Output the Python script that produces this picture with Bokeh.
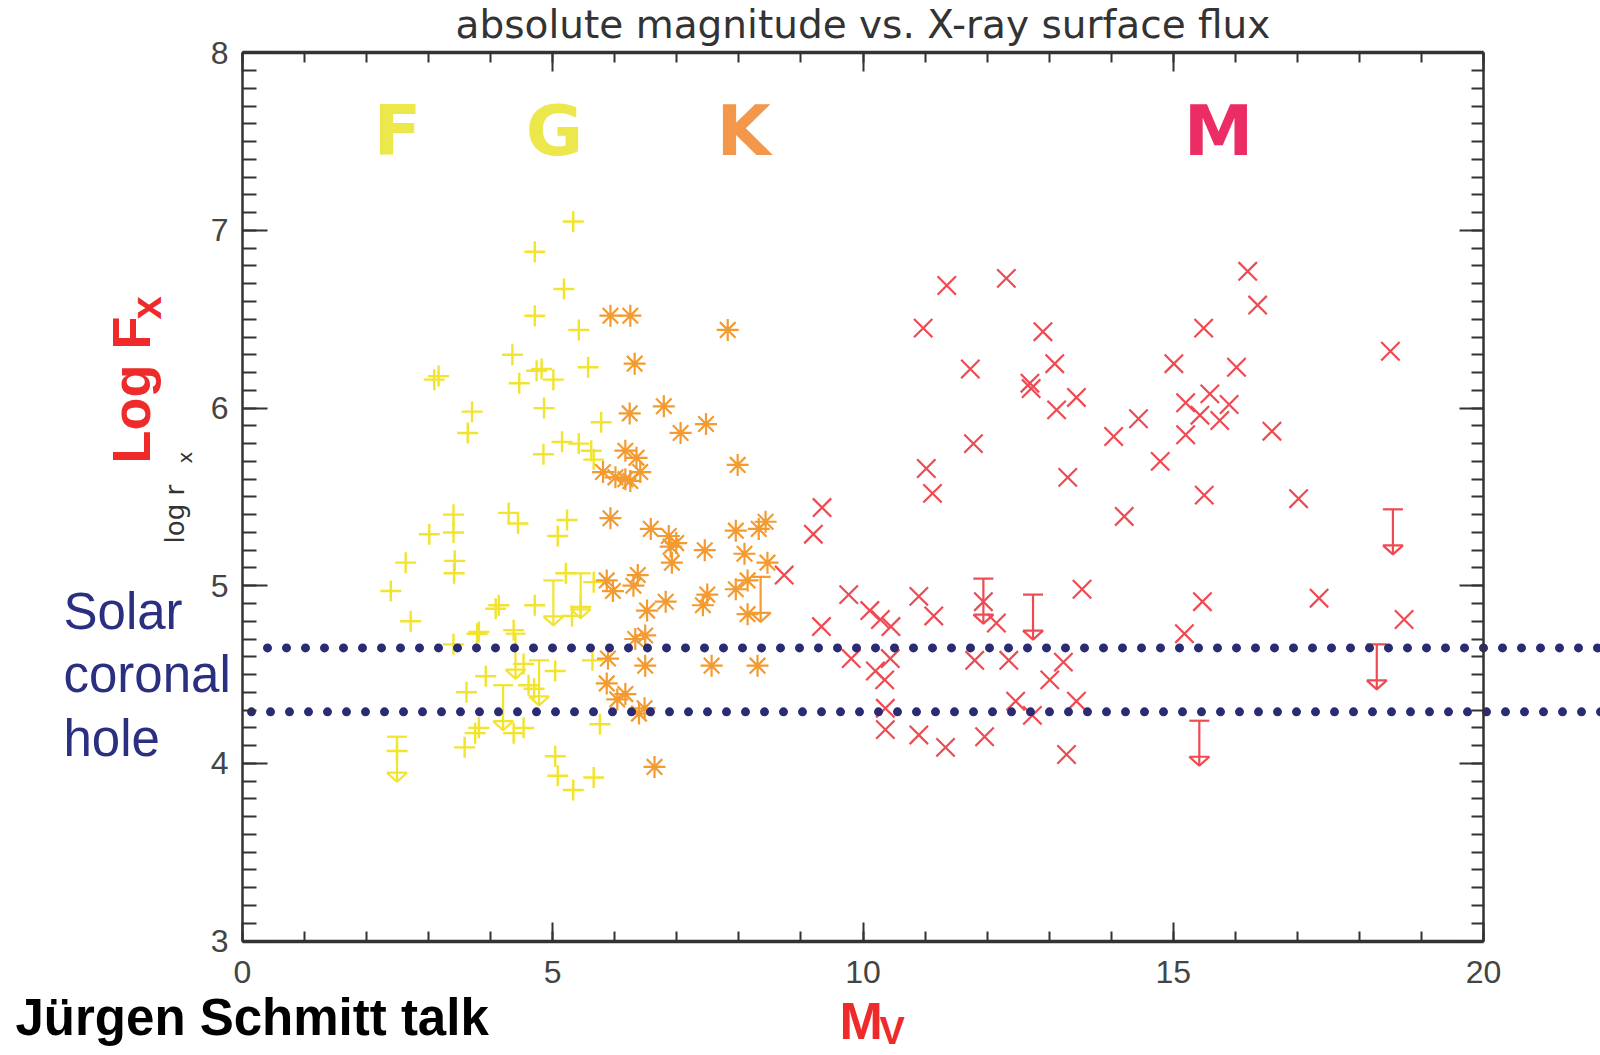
import numpy as np
from bokeh.plotting import figure
from bokeh.models import Range1d, LinearAxis, FixedTicker
from bokeh.core.properties import value
from bokeh.embed import file_html
from bokeh.resources import INLINE

# ---------------- data ----------------
# F/G stars (yellow +)
fg_mv = [5.33, 4.71, 5.18, 4.71, 5.42, 4.35, 5.57, 4.74, 4.82, 5.01, 4.46, 3.09, 3.16, 4.86, 3.70, 3.63,
         5.78, 5.15, 5.42, 4.85, 5.62, 5.66, 5.23, 5.08, 5.21, 5.66, 5.31, 5.04, 5.64, 5.76, 5.04, 5.08,
         5.66, 5.33, 3.40, 3.40, 3.01, 2.63, 3.42, 3.41, 2.39, 2.71, 4.29, 4.44, 5.45, 4.71, 4.08, 4.13,
         3.81, 3.78, 3.40, 4.37, 4.53, 3.92, 3.61, 4.61, 4.70, 4.53, 4.37, 3.81, 3.75, 3.58, 2.49]
fg_logfx = [7.05, 6.88, 6.67, 6.52, 6.44, 6.30, 6.23, 6.21, 6.22, 6.16, 6.14, 6.16, 6.18, 6.00, 5.98, 5.86,
            5.92, 5.81, 5.80, 5.74, 5.76, 5.71, 5.37, 5.28, 5.07, 5.02, 4.83, 4.52, 4.58, 4.22, 4.04, 3.93,
            3.92, 3.85, 5.40, 5.30, 5.29, 5.13, 5.14, 5.07, 4.97, 4.80, 5.41, 5.35, 4.88, 4.89, 4.87, 4.89,
            4.74, 4.73, 4.67, 4.75, 4.56, 4.49, 4.40, 4.44, 4.42, 4.20, 4.17, 4.20, 4.17, 4.09, 4.07]
fg_lim_mv = [2.49, 4.40, 4.20, 4.78, 5.01, 5.45]
fg_lim_logfx = [4.15, 4.73, 4.44, 4.58, 5.03, 5.07]

# K stars (orange asterisks)
k_mv = [5.93, 6.25, 7.82, 6.32, 6.24, 6.79, 7.06, 7.47, 7.98, 6.17, 6.35, 6.41, 5.81, 6.17, 6.01, 6.25,
        5.93, 6.58, 6.87, 6.99, 6.90, 6.92, 7.45, 7.95, 8.32, 8.43, 8.09, 8.46, 8.14, 7.95, 7.49, 7.42,
        8.14, 5.87, 5.97, 6.30, 6.37, 6.52, 6.82, 6.49, 6.33, 5.89, 6.49, 7.56, 8.30, 5.87, 6.17, 6.04,
        6.48, 6.39, 6.64]
k_logfx = [6.52, 6.52, 6.44, 6.25, 5.97, 6.01, 5.86, 5.91, 5.68, 5.76, 5.72, 5.64, 5.64, 5.60, 5.61, 5.59,
           5.38, 5.32, 5.28, 5.24, 5.22, 5.13, 5.20, 5.31, 5.32, 5.36, 5.18, 5.13, 5.03, 4.98, 4.95, 4.89,
           4.84, 5.03, 4.97, 5.00, 5.06, 4.86, 4.91, 4.72, 4.70, 4.59, 4.55, 4.55, 4.55, 4.45, 4.39, 4.36,
           4.31, 4.28, 3.98]
k_lim_mv = [8.35]
k_lim_logfx = [5.05]

# M stars (red x)
m_mv = [11.35, 12.31, 10.97, 12.90, 11.73, 13.09, 12.69, 12.71, 13.44, 13.12, 15.01, 14.44, 14.04, 15.20,
        15.20, 14.79, 11.78, 11.02, 11.12, 13.30, 14.21, 9.34, 9.20, 16.20, 16.36, 15.49, 16.02, 18.50,
        15.59, 15.90, 15.43, 15.75, 16.59, 15.50, 17.02, 15.47, 17.35, 18.72, 15.18, 8.73, 9.77, 9.33,
        10.11, 10.28, 10.45, 10.90, 11.14, 11.94, 12.15, 13.53, 9.81, 10.44, 10.20, 10.35, 11.80, 12.35,
        13.23, 13.01, 12.46, 13.44, 12.73, 10.36, 10.36, 10.90, 11.33, 11.96, 13.28]
m_logfx = [6.69, 6.73, 6.45, 6.43, 6.22, 6.25, 6.14, 6.11, 6.06, 5.99, 6.25, 5.94, 5.84, 6.03,
           5.85, 5.70, 5.80, 5.66, 5.52, 5.61, 5.39, 5.44, 5.29, 6.77, 6.58, 6.45, 6.23, 6.32,
           6.08, 6.02, 5.96, 5.93, 5.87, 5.51, 5.49, 4.91, 4.93, 4.81, 4.73, 5.06, 4.95, 4.77,
           4.86, 4.81, 4.77, 4.94, 4.83, 4.91, 4.79, 4.98, 4.59, 4.59, 4.52, 4.47, 4.58, 4.58,
           4.57, 4.47, 4.35, 4.35, 4.27, 4.31, 4.19, 4.16, 4.09, 4.15, 4.05]
m_lim_mv = [11.94, 12.74, 15.42, 18.28, 18.54]
m_lim_logfx = [5.04, 4.95, 4.24, 4.67, 5.43]

# solar coronal hole band (log Fx)
coronal_hole_logfx = [4.65, 4.29]

# axes
x_ticks = [0, 5, 10, 15, 20]
y_ticks = [3, 4, 5, 6, 7, 8]
spectral_classes = ["F", "G", "K", "M"]

# ---------------- layout (pixels) ----------------
W, H = 1600, 1055
X0_PX, X20_PX = 242.0, 1483.0        # x = 0 and x = 20
Y8_PX, Y3_PX = 52.3, 940.5           # y = 8 and y = 3
XS = (X20_PX - X0_PX) / 20.0         # px per unit
YS = (Y3_PX - Y8_PX) / 5.0
X_START = -X0_PX / XS
X_END = X_START + W / XS
Y_TOP = 8 + Y8_PX / YS
Y_BOT = Y_TOP - H / YS
BASE_SHIFT = 0.366                   # baseline correction (fraction of font size)


def px2x(px):
    return X_START + px / XS


def py2y(py):
    return Y_TOP - py / YS


def base_y(py, size):
    """data y of the anchor that puts the text baseline at pixel row py"""
    return py2y(py - BASE_SHIFT * size)


def base_x_rot(px, size):
    """data x of the anchor that puts a 90deg-rotated text baseline at pixel column px"""
    return px2x(px - BASE_SHIFT * size)


p = figure(width=W, height=H, x_range=Range1d(X_START, X_END), y_range=Range1d(Y_BOT, Y_TOP),
           x_axis_type=None, y_axis_type=None, toolbar_location=None, output_backend="svg",
           min_border=0, min_border_left=0, min_border_right=0, min_border_top=0, min_border_bottom=0,
           outline_line_color=None, background_fill_color="white", border_fill_color="white")

YELLOW = "#F2E42C"
ORANGE = "#F39A30"
RED = "#EF4A52"
NAVY = "#2A2B72"
AX = "#333333"

# ---------------- upper limits ----------------
LIM_LEN = 45 / YS
BAR = 10 / XS
HEAD_W = 10 / XS
HEAD_H = 9 / YS


def limit_paths(xv, yv):
    xo, yo = [], []
    for x, y in zip(xv, yv):
        yb = y - LIM_LEN
        xo += [[x - BAR, x + BAR], [x, x], [x - HEAD_W, x + HEAD_W, x, x - HEAD_W]]
        yo += [[y, y], [y, yb], [yb + HEAD_H, yb + HEAD_H, yb, yb + HEAD_H]]
    return xo, yo


for lx, ly, col in [(fg_lim_mv, fg_lim_logfx, YELLOW), (k_lim_mv, k_lim_logfx, ORANGE),
                    (m_lim_mv, m_lim_logfx, RED)]:
    xs_, ys_ = limit_paths(lx, ly)
    p.multi_line(xs_, ys_, line_color=col, line_width=2.2)

# ---------------- markers ----------------
p.scatter(fg_mv, fg_logfx, marker="cross", size=21, line_color=YELLOW, line_width=2.4)
p.scatter(k_mv, k_logfx, marker="asterisk", size=22, line_color=ORANGE, line_width=2.2)
p.scatter(m_mv, m_logfx, marker="x", size=26, line_color=RED, line_width=2.2)

# ---------------- coronal hole dotted lines ----------------
dot_start_px = [267, 251]
for yv, sx in zip(coronal_hole_logfx, dot_start_px):
    p.line([px2x(sx), X_END + 1], [yv, yv], line_color=NAVY, line_width=9, line_dash="0 19",
           line_cap="round")

# ---------------- axes ----------------
x_minor = list(range(0, 21))
y_minor = [round(v, 1) for v in np.arange(3.0, 8.0001, 0.1)]


def add_axis(side, loc, bounds, ticks, minor, tin, min_in, lw, labels):
    ax = LinearAxis(fixed_location=loc, bounds=bounds,
                    ticker=FixedTicker(ticks=ticks, minor_ticks=minor))
    ax.axis_line_color = AX
    ax.axis_line_width = lw
    ax.major_tick_line_color = AX
    ax.minor_tick_line_color = AX
    ax.major_tick_line_width = 2
    ax.minor_tick_line_width = 2
    ax.major_tick_in = tin
    ax.major_tick_out = 0
    ax.minor_tick_in = min_in
    ax.minor_tick_out = 0
    ax.major_label_text_font = "Liberation Sans"
    ax.major_label_text_font_size = "32px"
    ax.major_label_text_color = "#444444"
    if not labels:
        ax.major_label_overrides = {t: "" for t in ticks}
    p.add_layout(ax, side)
    return ax


bx = add_axis("below", 3, (0, 20), x_ticks, x_minor, 19, 10, 3.5, True)
bx.major_label_standoff = 20
add_axis("above", 8, (0, 20), x_ticks, x_minor, 19, 10, 3.5, False)
ly_ = add_axis("left", 0, (3, 8), y_ticks, y_minor, 25, 14, 2.5, True)
ly_.major_label_standoff = 14
add_axis("right", 20, (3, 8), y_ticks, y_minor, 24, 12, 2.5, False)

# ---------------- texts ----------------
TITLE_SIZE = 39
p.text(x=[10], y=[base_y(38, TITLE_SIZE)], text=["absolute magnitude vs. X-ray surface flux"],
       text_align="center", text_baseline="alphabetic", text_font=value("DejaVu Sans"),
       text_font_size=f"{TITLE_SIZE}px", text_color="#333333")

class_px = [397, 554, 743, 1218]
class_col = ["#ECE74A", "#ECE74A", "#F3974A", "#EC2C64"]
p.text(x=[px2x(v) for v in class_px], y=[base_y(156, 70)] * 4, text=spectral_classes, text_align="center",
       text_baseline="alphabetic", text_font=value("DejaVu Sans"), text_font_style="bold",
       text_font_size="70px", text_color=class_col)

# y-axis labels (rotated)
p.text(x=[base_x_rot(150, 54)], y=[py2y(463)], text=["Log F"], angle=np.pi / 2, text_align="left",
       text_baseline="alphabetic", text_font=value("Liberation Sans"), text_font_style="bold",
       text_font_size="54px", text_color="#EE2A2A")
p.text(x=[base_x_rot(161, 42)], y=[py2y(319)], text=["x"], angle=np.pi / 2, text_align="left",
       text_baseline="alphabetic", text_font=value("Liberation Sans"), text_font_style="bold",
       text_font_size="42px", text_color="#EE2A2A")
p.text(x=[base_x_rot(184, 26)], y=[py2y(543)], text=["log r"], angle=np.pi / 2, text_align="left",
       text_baseline="alphabetic", text_font=value("DejaVu Sans"), text_font_size="26px", text_color="#333333")
p.text(x=[base_x_rot(192, 20)], y=[py2y(463)], text=["x"], angle=np.pi / 2, text_align="left",
       text_baseline="alphabetic", text_font=value("DejaVu Sans"), text_font_size="20px", text_color="#333333")

# x-axis label
p.text(x=[px2x(839)], y=[base_y(1040, 52)], text=["M"], text_align="left", text_baseline="alphabetic",
       text_font=value("Liberation Sans"), text_font_style="bold", text_font_size="52px", text_color="#EE2A2A")
p.text(x=[px2x(879)], y=[base_y(1044, 38)], text=["V"], text_align="left", text_baseline="alphabetic",
       text_font=value("Liberation Sans"), text_font_style="bold", text_font_size="38px", text_color="#EE2A2A")

# Solar coronal hole
SCH = 51
p.text(x=[px2x(63)] * 3, y=[base_y(630, SCH), base_y(693, SCH), base_y(757, SCH)],
       text=["Solar", "coronal", "hole"], text_align="left", text_baseline="alphabetic",
       text_font=value("Liberation Sans"), text_font_size=f"{SCH}px", text_color="#2B2F80")

# credit
p.text(x=[px2x(15)], y=[base_y(1036, 51)], text=["Jürgen Schmitt talk"], text_align="left",
       text_baseline="alphabetic", text_font=value("Liberation Sans"), text_font_style="bold",
       text_font_size="51px", text_color="#000000")

open("out.html", "w").write(file_html(p, INLINE))
